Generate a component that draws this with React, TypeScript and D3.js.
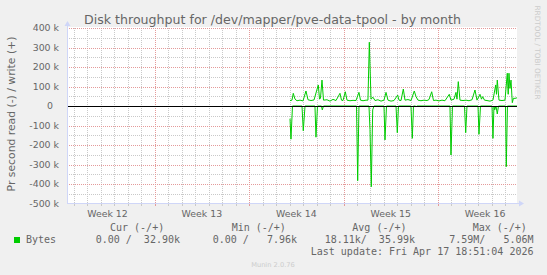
import React from "react";
import * as d3 from "d3";

// ---- data ----
const seriesStart = Date.UTC(2026, 3, 2, 0, 0); // Apr 2 2026 00:00 UTC
// hours since seriesStart, write (+) bytes/s
const writeHours = [0.8, 4.3, 6.6, 9.7, 13.2, 18.6, 23.9, 29.2, 32.8, 38.1, 43.5, 51.1, 53.3, 55.0, 57.7, 60.4, 66.6, 71.9, 77.3, 82.6, 89.7, 92.4, 95.1, 99.2, 102.2, 107.5, 112.9, 118.2, 123.5, 126.2, 130.7, 136.0, 139.5, 141.9, 144.9, 148.4, 152.0, 157.3, 162.7, 168.0, 171.6, 175.1, 180.5, 185.8, 192.4, 194.7, 198.3, 202.4, 205.4, 210.7, 216.1, 221.9, 225.0, 228.5, 233.8, 239.2, 244.5, 248.1, 252.9, 256.1, 260.5, 265.9, 271.2, 276.5, 284.2, 287.2, 292.6, 296.1, 297.9, 300.2, 303.2, 308.6, 313.9, 319.3, 324.6, 329.9, 333.5, 338.8, 341.5, 343.6, 346.8, 351.3, 356.6, 361.9, 366.8, 368.2, 369.6, 372.6, 378.0, 383.3, 387.4, 389.0, 390.4, 392.2, 394.0, 396.3, 398.4, 401.1, 404.6];
const writeValues = [28, 30, 65, 35, 27, 30, 26, 77, 32, 28, 31, 108, 35, 40, 133, 30, 32, 25, 34, 28, 65, 30, 28, 73, 30, 27, 29, 28, 70, 30, 27, 30, 30, 327, 35, 45, 28, 32, 25, 30, 70, 30, 25, 28, 56, 30, 28, 87, 30, 33, 28, 77, 48, 30, 27, 30, 28, 33, 73, 28, 30, 26, 30, 27, 60, 30, 35, 70, 35, 125, 30, 28, 30, 27, 32, 82, 30, 60, 35, 48, 30, 28, 25, 30, 108, 60, 133, 30, 28, 30, 168, 60, 168, 90, 133, 17, 40, 39, 42].map((k) => k * 1000);
// read (-) bytes/s, drawn below zero
const readHours = [0.8, 2.5, 5.2, 22.1, 24.4, 27.5, 45.2, 47.0, 49.7, 56.8, 58.2, 60.4, 119.1, 121.2, 123.5, 141.3, 143.1, 145.4, 147.9, 150.2, 168.0, 169.8, 172.5, 189.4, 191.7, 193.8, 216.0, 218.4, 220.5, 224.1, 224.9, 226.7, 285.4, 287.2, 289.9, 311.2, 313.4, 315.7, 335.3, 337.0, 339.7, 360.2, 361.9, 363.7, 365.0, 367.3, 369.6, 371.7, 384.2, 385.6, 387.7, 404.6];
const readValues = [-65, -170, 0, 0, -127, 0, 0, -160, 0, 0, -20, 0, 0, -383, 0, 0, -120, -414, -20, 0, 0, -174, 0, 0, -137, 0, 0, -166, 0, 0, -5, 0, 0, -251, 0, 0, -137, 0, 0, -145, 0, 0, -166, 0, -20, 0, -41, 0, 0, -311, 0, 0].map((k) => k * 1000);

const yTickValues = [400000, 300000, 200000, 100000, 0, -100000, -200000, -300000, -400000, -500000];
const yTickLabels = ["400 k", "300 k", "200 k", "100 k", "0", "-100 k", "-200 k", "-300 k", "-400 k", "-500 k"];
const weekStarts = [Date.UTC(2026, 2, 16), Date.UTC(2026, 2, 23), Date.UTC(2026, 2, 30), Date.UTC(2026, 3, 6), Date.UTC(2026, 3, 13)];
const weekLabels = ["Week 12", "Week 13", "Week 14", "Week 15", "Week 16"];

const title = "Disk throughput for /dev/mapper/pve-data-tpool - by month";
const yLabel = "Pr second read (-) / write (+)";
const legendName = "Bytes";
const legendHeaders = ["Cur (-/+)", "Min (-/+)", "Avg (-/+)", "Max (-/+)"];
const legendValues = ["0.00 /  32.90k", "0.00 /   7.96k", "18.11k/  35.99k", "7.59M/   5.06M"];
const lastUpdate = "Last update: Fri Apr 17 18:51:04 2026";

// ---- layout ----
const W = 547, H = 275;
const L = 67, R = 517, T = 28, B = 203.5;
const domainStart = new Date(Date.UTC(2026, 2, 16, 12, 0));
const domainEnd = new Date(Date.UTC(2026, 3, 18, 20, 40));
const GREEN = "#00CC00";
const FONT = "#666666";
const AXIS = "#CFD6F8";
const SANS = "'DejaVu Sans', sans-serif";
const MONO = "'DejaVu Sans Mono', monospace";
const nb = (s: string) => s.replace(/ /g, "\u00a0");

export default function App() {
  const x = d3.scaleUtc().domain([domainStart, domainEnd]).range([L, R]);
  const y = d3.scaleLinear().domain([-500000, 400000]).range([B, T]);

  const line = d3
    .line<[number, number]>()
    .x((d) => x(new Date(seriesStart + d[0] * 3600000)))
    .y((d) => y(d[1]));
  const writePts: [number, number][] = writeHours.map((h, i) => [h, writeValues[i]]);
  const readPts: [number, number][] = readHours.map((h, i) => [h, readValues[i]]);

  const days = d3.utcDay.range(domainStart, domainEnd);
  const mondays = d3.utcMonday.range(domainStart, domainEnd);
  const mondaySet = new Set(mondays.map((d) => +d));
  const minorY = d3.range(-450000, 400001, 50000).filter((v) => v % 100000 !== 0);
  const majorY = yTickValues.filter((v) => v !== 0 && v !== -500000);

  const yZero = Math.round(y(0)) + 0.5;
  const bottom = Math.round(B) - 0.5;

  const valueEnds = [180, 297, 415, 533.5];
  const headerStarts = [110, 231.7, 352.3, 472.7];

  return (
    <svg
      width={W}
      height={H}
      style={{ position: "fixed", left: 0, top: 0, background: "#F0F0F0" }}
    >
      <rect x={0} y={0} width={W} height={H} fill="#F0F0F0" />
      <rect x={L} y={T - 1} width={R - L} height={B - T + 1} fill="#FFFFFF" />

      {/* minor grid */}
      <g stroke="#c9c9c9" strokeWidth={1} strokeDasharray="1,1" shapeRendering="crispEdges">
        {days
          .filter((d) => !mondaySet.has(+d))
          .map((d, i) => (
            <line key={"vx" + i} x1={Math.round(x(d)) + 0.5} x2={Math.round(x(d)) + 0.5} y1={T} y2={B} />
          ))}
        {minorY.map((v, i) => (
          <line key={"hy" + i} x1={L} x2={R} y1={Math.round(y(v)) + 0.5} y2={Math.round(y(v)) + 0.5} />
        ))}
      </g>
      {/* major grid */}
      <g stroke="#e49a9a" strokeWidth={1} strokeDasharray="1,1" shapeRendering="crispEdges">
        {mondays.map((d, i) => (
          <line key={"mx" + i} x1={Math.round(x(d)) + 0.5} x2={Math.round(x(d)) + 0.5} y1={T} y2={B} />
        ))}
        {majorY.map((v, i) => (
          <line key={"my" + i} x1={L} x2={R} y1={Math.round(y(v)) + 0.5} y2={Math.round(y(v)) + 0.5} />
        ))}
      </g>

      {/* axis ticks */}
      <g shapeRendering="crispEdges" strokeWidth={1}>
        {days.map((d, i) => (
          <line
            key={"tk" + i}
            x1={Math.round(x(d)) + 0.5}
            x2={Math.round(x(d)) + 0.5}
            y1={bottom - 2}
            y2={bottom + 2}
            stroke={mondaySet.has(+d) ? "#e49a9a" : "#c9c9c9"}
          />
        ))}
      </g>

      {/* series */}
      <path d={line(readPts) || ""} fill="none" stroke={GREEN} strokeWidth={1} />
      <path d={line(writePts) || ""} fill="none" stroke={GREEN} strokeWidth={1} />

      {/* zero rule */}
      <line x1={L} x2={R} y1={yZero} y2={yZero} stroke="#000" strokeWidth={1} shapeRendering="crispEdges" />

      {/* axes with arrows */}
      <line x1={L + 0.5} x2={L + 0.5} y1={bottom} y2={T - 5} stroke={AXIS} shapeRendering="crispEdges" />
      <path d={`M${L - 2.5},${T - 2} L${L + 0.5},${T - 7} L${L + 3.5},${T - 2} Z`} fill={AXIS} />
      <line x1={L} x2={R + 2} y1={bottom} y2={bottom} stroke={AXIS} shapeRendering="crispEdges" />
      <path d={`M${R + 2},${bottom - 3} L${R + 7},${bottom} L${R + 2},${bottom + 3} Z`} fill={AXIS} />

      {/* title */}
      <text x={272.5} y={24} textAnchor="middle" fontFamily={SANS} fontSize={12.6} fill={FONT}>
        {title}
      </text>

      {/* y tick labels */}
      <g fontFamily={SANS} fontSize={9.4} fill={FONT} textAnchor="end">
        {yTickValues.map((v, i) => (
          <text key={"yl" + i} x={v === 0 ? 53 : 59} y={y(v) + 3.4}>
            {yTickLabels[i]}
          </text>
        ))}
      </g>

      {/* x tick labels */}
      <g fontFamily={SANS} fontSize={9.4} fill={FONT} textAnchor="middle">
        {weekStarts.map((w, i) => (
          <text key={"xl" + i} x={x(new Date(w + 3.5 * 86400000))} y={216.5}>
            {weekLabels[i]}
          </text>
        ))}
      </g>

      {/* y label */}
      <text
        transform={`translate(14.5,114) rotate(-90)`}
        textAnchor="middle"
        fontFamily={SANS}
        fontSize={10.8}
        fill={FONT}
      >
        {yLabel}
      </text>

      {/* watermark */}
      <text
        transform={`translate(534.5,52.5) rotate(90)`}
        textAnchor="middle"
        fontFamily={SANS}
        fontSize={7.3}
        fill="#cccccc"
      >
        RRDTOOL / TOBI OETIKER
      </text>

      {/* legend */}
      <g fontFamily={MONO} fontSize={10} fill={FONT}>
        {legendHeaders.map((h, i) => (
          <text key={"lh" + i} x={headerStarts[i]} y={230.8}>
            {nb(h)}
          </text>
        ))}
        <rect x={14} y={237} width={6} height={6} fill={GREEN} />
        <text x={26} y={242.8}>
          {legendName}
        </text>
        {legendValues.map((v, i) => (
          <text key={"lv" + i} x={valueEnds[i]} y={242.8} textAnchor="end">
            {nb(v)}
          </text>
        ))}
        <text x={533.5} y={254.8} textAnchor="end">
          {nb(lastUpdate)}
        </text>
      </g>

      <text x={273} y={267} textAnchor="middle" fontFamily={SANS} fontSize={6.7} fill="#cccccc">
        Munin 2.0.76
      </text>
    </svg>
  );
}
